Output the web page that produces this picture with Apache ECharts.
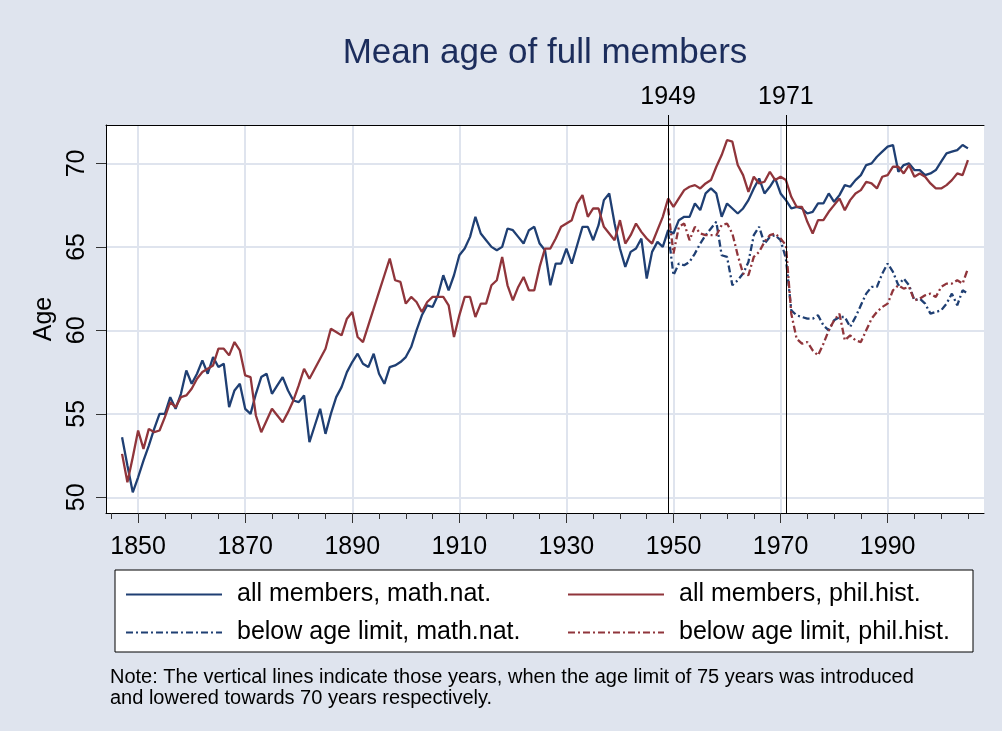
<!DOCTYPE html>
<html lang="en">
<head>
    <meta charset="UTF-8">
    <title>Mean age of full members</title>
    <script src="https://cdn.jsdelivr.net/npm/echarts@6/dist/echarts.min.js"></script>
    <style>
        html, body { margin: 0; padding: 0; background: #dfe4ee; }
        #main { width: 1002px; height: 731px; }
    </style>
</head>
<body>
<div id="main"></div>
<script>
    // years 1847-2005, all members
    var startYear = 1847;
    var mathAll = [
        53.6, 51.9, 50.3, 51.2, 52.2, 53.1, 54.1, 55.0, 55.0, 56.0,
        55.3, 56.2, 57.6, 56.8, 57.4, 58.2, 57.4, 58.4, 57.8, 58.0,
        55.4, 56.4, 56.8, 55.3, 55.0, 56.2, 57.2, 57.4, 56.2, 56.7,
        57.2, 56.4, 55.8, 55.7, 56.1, 53.3, 54.3, 55.3, 53.8, 55.0,
        56.0, 56.6, 57.5, 58.1, 58.6, 58.0, 57.8, 58.6, 57.4, 56.8,
        57.8, 57.9, 58.1, 58.4, 59.0, 60.0, 60.9, 61.5, 61.4, 62.1,
        63.3, 62.4, 63.3, 64.5, 64.9, 65.6, 66.8, 65.8, 65.4, 65.0,
        64.8, 65.0, 66.1, 66.0, 65.6, 65.2, 66.0, 66.2, 65.2, 64.8,
        62.7, 64.0, 64.0, 64.9, 64.0, 65.1, 66.2, 66.2, 65.4, 66.3,
        67.8, 68.2, 66.4, 64.9, 63.8, 64.7, 64.9, 65.5, 63.1, 64.7,
        65.3, 65.0, 66.0, 65.8, 66.6, 66.8, 66.8, 67.6, 67.2, 68.2,
        68.5, 68.2, 66.8, 67.6, 67.3, 67.0, 67.3, 67.8, 68.5, 69.1,
        68.2, 68.6, 69.1, 68.2, 67.8, 67.3, 67.4, 67.3, 67.0, 67.1,
        67.6, 67.6, 68.2, 67.7, 68.1, 68.7, 68.6, 69.0, 69.3, 69.9,
        70.0, 70.4, 70.7, 71.0, 71.1, 69.5, 69.9, 70.0, 69.6, 69.6,
        69.3, 69.4, 69.6, 70.1, 70.6, 70.7, 70.8, 71.1, 70.9
    ];
    var philAll = [
        52.6, 50.9, 52.4, 54.0, 52.9, 54.1, 53.9, 54.0, 54.8, 55.7,
        55.4, 56.0, 56.1, 56.5, 57.1, 57.5, 57.7, 57.9, 58.9, 58.9,
        58.5, 59.3, 58.8, 57.3, 57.2, 54.9, 53.9, 54.6, 55.3, 54.9,
        54.5, 55.1, 55.8, 56.7, 57.7, 57.1, 57.7, 58.3, 58.9, 60.1,
        59.9, 59.7, 60.7, 61.1, 59.6, 59.3, 60.3, 61.3, 62.3, 63.3,
        64.3, 63.0, 62.9, 61.6, 62.0, 61.7, 61.1, 61.7, 62.0, 62.0,
        62.0, 61.5, 59.6, 60.9, 62.0, 62.0, 60.8, 61.6, 61.6, 62.7,
        63.0, 64.4, 62.7, 61.8, 62.6, 63.2, 62.4, 62.4, 63.8, 64.9,
        64.9, 65.5, 66.2, 66.4, 66.6, 67.6, 68.1, 66.8, 67.3, 67.3,
        66.2, 65.8, 65.4, 66.6, 65.2, 65.7, 66.4, 65.9, 65.5, 65.2,
        66.0, 66.8, 67.9, 67.4, 67.9, 68.4, 68.6, 68.7, 68.5, 68.8,
        69.0, 69.8, 70.5, 71.4, 71.3, 69.9, 69.3, 68.3, 69.2, 68.8,
        68.9, 69.5, 69.0, 69.2, 69.0, 68.0, 67.4, 67.4, 66.5, 65.8,
        66.6, 66.6, 67.1, 67.5, 67.9, 67.2, 67.8, 68.2, 68.4, 68.9,
        68.8, 68.5, 69.2, 69.3, 69.8, 69.8, 69.4, 69.9, 69.2, 69.4,
        69.2, 68.8, 68.5, 68.5, 68.7, 69.0, 69.4, 69.3, 70.2
    ];

    // years 1949-2005, members below the age limit
    var limitStart = 1949;
    var mathLimit = [
        65.9, 63.3, 64.0, 63.9, 64.1, 64.6, 65.2, 65.7, 66.1, 66.5,
        64.5, 64.4, 62.7, 63.0, 63.4, 64.1, 65.7, 66.2, 65.2, 65.6,
        65.7, 65.4, 64.3, 61.2, 60.9, 60.8, 60.7, 60.7, 60.9, 60.3,
        60.0, 60.6, 60.8, 60.8, 60.2, 60.8, 61.5, 62.2, 62.6, 62.6,
        63.4, 64.0, 63.5, 62.7, 63.1, 62.7, 61.8, 61.9, 61.6, 61.0,
        61.1, 61.2, 61.6, 62.2, 61.5, 62.4, 62.2
    ];
    var philLimit = [
        67.3, 64.6, 66.2, 66.4, 65.4, 66.2, 65.8, 65.7, 65.7, 65.7,
        66.3, 66.4, 65.8, 64.5, 63.4, 63.3, 64.4, 64.7, 65.3, 65.7,
        65.8, 65.5, 65.1, 61.0, 59.5, 59.2, 59.3, 58.8, 58.5, 59.2,
        60.0, 60.6, 61.0, 59.4, 59.7, 59.4, 59.3, 60.0, 60.7, 61.1,
        61.4, 61.6, 62.4, 62.7, 62.5, 62.6, 61.8, 61.9, 62.1, 62.2,
        62.0, 62.6, 62.8, 62.8, 63.0, 62.8, 63.7
    ];

    var xLabels = [1850, 1870, 1890, 1910, 1930, 1950, 1970, 1990];
    var xMinorTicks = [];
    for (var y = 1845; y <= 2005; y += 5) {
        xMinorTicks.push(y);
    }
    var yLabels = [50, 55, 60, 65, 70];
    var markYears = [1949, 1971];

    var names = [
        'all members, math.nat.',
        'all members, phil.hist.',
        'below age limit, math.nat.',
        'below age limit, phil.hist.'
    ];

    var navy = '#1f3f73';
    var maroon = '#90353b';
    var gridColor = '#dfe4ee';
    var font = 'Liberation Sans, Arial, sans-serif';
    var dashDot = [7, 3, 2, 3];

    function plain(v) {
        return String(v);
    }

    function pairs(first, values) {
        var out = [];
        for (var i = 0; i < values.length; i++) {
            out.push([first + i, values[i]]);
        }
        return out;
    }

    function lineSeries(name, data, color, type) {
        return {
            name: name,
            type: 'line',
            xAxisIndex: 0,
            data: data,
            symbol: 'none',
            z: 3,
            lineStyle: {color: color, width: 2.3, type: type},
            itemStyle: {color: color}
        };
    }

    function legendItem(name, left, top) {
        return {
            data: [name],
            left: left,
            top: top,
            padding: 0,
            itemWidth: 96,
            itemHeight: 14,
            selectedMode: false,
            itemStyle: {color: 'transparent', borderWidth: 0, opacity: 0},
            textStyle: {fontFamily: font, fontSize: 25, color: '#000', padding: [0, 0, 0, 10]}
        };
    }

    var myChart = echarts.init(document.getElementById('main'), null, {renderer: 'canvas'});

    var option = {
        backgroundColor: gridColor,
        animation: false,
        grid: {
            left: 106, top: 125, width: 878, height: 388,
            show: true, backgroundColor: '#fff', borderWidth: 0
        },
        xAxis: [{
            type: 'value', min: 1844, max: 2008, position: 'bottom',
            axisLine: {show: true, lineStyle: {color: '#000', width: 1}},
            axisTick: {show: true, customValues: xLabels, length: 10, lineStyle: {color: '#333'}},
            axisLabel: {customValues: xLabels, formatter: plain, fontFamily: font, fontSize: 25, color: '#000', margin: 22},
            splitLine: {show: true, lineStyle: {color: gridColor, width: 2}}
        }, {
            type: 'value', min: 1844, max: 2008, position: 'bottom',
            axisLine: {show: false},
            axisTick: {show: true, customValues: xMinorTicks, length: 6, lineStyle: {color: '#333'}},
            axisLabel: {show: false},
            splitLine: {show: false}
        }, {
            type: 'value', min: 1844, max: 2008, position: 'top',
            axisLine: {show: true, lineStyle: {color: '#000', width: 1}},
            axisTick: {show: true, customValues: markYears, length: 10, lineStyle: {color: '#000'}},
            axisLabel: {customValues: markYears, formatter: plain, fontFamily: font, fontSize: 25, color: '#000', margin: 15},
            splitLine: {show: true, lineStyle: {color: '#000', width: 1}},
            z: 4
        }],
        yAxis: {
            type: 'value', min: 49.06, max: 72.3,
            name: 'Age', nameLocation: 'middle', nameGap: 42, nameRotate: 90,
            nameTextStyle: {fontFamily: font, fontSize: 25, color: '#000'},
            axisLine: {show: true, lineStyle: {color: '#000', width: 1}},
            axisTick: {show: true, customValues: yLabels, length: 10, lineStyle: {color: '#333'}},
            axisLabel: {customValues: yLabels, formatter: plain, rotate: 90, fontFamily: font, fontSize: 25, color: '#000', margin: 16},
            splitLine: {show: true, lineStyle: {color: gridColor, width: 2}}
        },
        legend: [
            legendItem(names[0], 125, 582),
            legendItem(names[1], 567, 582),
            legendItem(names[2], 125, 620),
            legendItem(names[3], 567, 620)
        ],
        graphic: [{
            type: 'text', x: 545, y: 36, z: 10,
            style: {text: 'Mean age of full members', font: '35px ' + font, fill: '#1c2d5c', textAlign: 'center'}
        }, {
            type: 'rect', z: 0,
            shape: {x: 115, y: 570, width: 858, height: 82},
            style: {fill: '#fff', stroke: '#000', lineWidth: 1}
        }, {
            type: 'text', x: 110, y: 667, z: 10,
            style: {
                text: 'Note: The vertical lines indicate those years, when the age limit of 75 years was introduced\nand lowered towards 70 years respectively.',
                font: '20px ' + font, fill: '#000', lineHeight: 21
            }
        }],
        series: [
            lineSeries(names[0], pairs(startYear, mathAll), navy, 'solid'),
            lineSeries(names[1], pairs(startYear, philAll), maroon, 'solid'),
            lineSeries(names[2], pairs(limitStart, mathLimit), navy, dashDot),
            lineSeries(names[3], pairs(limitStart, philLimit), maroon, dashDot)
        ]
    };

    myChart.setOption(option);
</script>
</body>
</html>
